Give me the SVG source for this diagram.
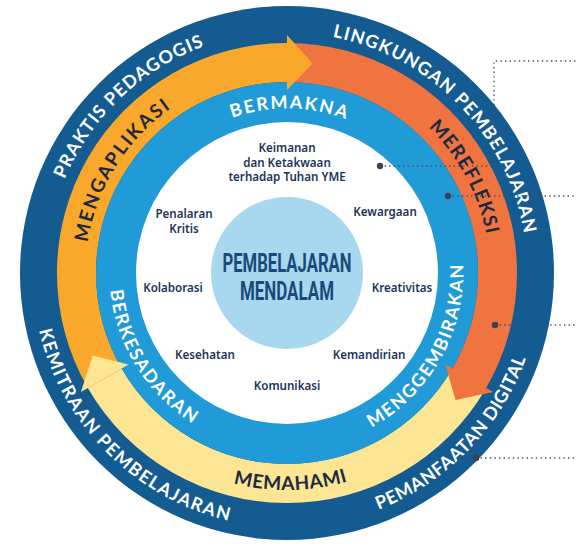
<svg xmlns="http://www.w3.org/2000/svg" width="576" height="546" viewBox="0 0 576 546">
<style>
.ring{font-family:Lato,"Open Sans",sans-serif;font-weight:700;font-size:18px}
.w{fill:#ffffff}
.d{fill:#1b2a40}
.lbl{font-family:"Noto Sans","Open Sans",sans-serif;font-weight:600;font-size:11.6px;fill:#1d3557;text-anchor:middle}
.ctr{font-family:Roboto,"Liberation Sans",sans-serif;font-weight:700;font-size:26px;fill:#1a4a7a;text-anchor:middle}
.lead{fill:none;stroke:#4a505c;stroke-width:1.4;stroke-dasharray:1.4 3.2}
.dot{fill:#3b4252}
</style>
<defs>
<path id="pPrak" d="M 111.82 439.24 A 241.5 241.5 0 0 1 462.18 106.76"/>
<path id="pLing" d="M 118.79 99.72 A 241.5 241.5 0 0 1 455.21 446.28"/>
<path id="pPem" d="M 109.57 455.45 A 254.5 254.5 0 0 0 464.43 90.55"/>
<path id="pKem" d="M 107.04 93.04 A 254.5 254.5 0 0 0 466.96 452.96"/>
<path id="pApl" d="M 179.43 445.15 A 203 203 0 0 1 394.57 100.85"/>
<path id="pRef" d="M 190.76 94.26 A 203 203 0 0 1 383.24 451.74"/>
<path id="pMem" d="M 70.03 276.79 A 217 217 0 0 0 503.97 269.21"/>
<path id="pBer" d="M 122.52 270.13 A 164.5 164.5 0 0 1 451.48 275.87"/>
<path id="pSad" d="M 192.94 122.47 A 177.5 177.5 0 0 0 381.06 423.53"/>
<path id="pGem" d="M 200.95 428.24 A 177.5 177.5 0 0 0 373.05 117.76"/>
</defs>
<g id="outer-ring">
<circle cx="287" cy="273" r="267" fill="#135b91"/>
</g>
<g id="arrow-ring">
<path id="shaft-memahami" d="M 486.19 388 A 230 230 0 0 1 87.81 388 L 121.59 368.5 A 191 191 0 0 0 452.41 368.5 Z" fill="#fce593"/>
<path id="shaft-mengaplikasi" d="M 87.81 388 A 230 230 0 0 1 287 43 L 287 82 A 191 191 0 0 0 121.59 368.5 Z" fill="#f9a82b"/>
<path id="shaft-merefleksi" d="M 287 43 A 230 230 0 0 1 486.19 388 L 452.41 368.5 A 191 191 0 0 0 287 82 Z" fill="#f0743f"/>
</g>
<g id="middle-ring">
<circle cx="287" cy="273" r="191" fill="#219bd8"/>
<circle cx="287" cy="273" r="151" fill="#ffffff"/>
</g>
<g id="arrowheads">
<polygon points="287,90 287,35 312.71,63.57" fill="#f9a82b"/>
<polygon points="445.48,364.5 493.11,392 455.51,399.98" fill="#f0743f"/>
<polygon points="128.52,364.5 80.89,392 92.77,355.44" fill="#fce593"/>
</g>
<g id="center">
<circle cx="287" cy="273" r="76" fill="#a7d8ee"/>
<text class="ctr" x="287" y="271.5" textLength="129" lengthAdjust="spacingAndGlyphs">PEMBELAJARAN</text>
<text class="ctr" x="287" y="300" textLength="94" lengthAdjust="spacingAndGlyphs">MENDALAM</text>
</g>
<g id="outer-labels" class="ring w">
<text letter-spacing="1.1"><textPath href="#pPrak" startOffset="50%" text-anchor="middle">PRAKTIS PEDAGOGIS</textPath></text>
<text letter-spacing="1.2"><textPath href="#pLing" startOffset="50%" text-anchor="middle">LINGKUNGAN PEMBELAJARAN</textPath></text>
<text letter-spacing="0.6"><textPath href="#pPem" startOffset="50%" text-anchor="middle">PEMANFAATAN DIGITAL</textPath></text>
<text letter-spacing="1.5"><textPath href="#pKem" startOffset="50%" text-anchor="middle">KEMITRAAN PEMBELAJARAN</textPath></text>
</g>
<g id="arrow-labels" class="ring d">
<text letter-spacing="2" style="font-size:19px"><textPath href="#pApl" startOffset="50%" text-anchor="middle">MENGAPLIKASI</textPath></text>
<text letter-spacing="1.2" style="font-size:19px"><textPath href="#pRef" startOffset="50%" text-anchor="middle">MEREFLEKSI</textPath></text>
<text letter-spacing="0.6" style="font-size:19px"><textPath href="#pMem" startOffset="50%" text-anchor="middle">MEMAHAMI</textPath></text>
</g>
<g id="middle-labels" class="ring w">
<text letter-spacing="2"><textPath href="#pBer" startOffset="50%" text-anchor="middle">BERMAKNA</textPath></text>
<text letter-spacing="1.8"><textPath href="#pSad" startOffset="50%" text-anchor="middle">BERKESADARAN</textPath></text>
<text letter-spacing="1.7"><textPath href="#pGem" startOffset="50%" text-anchor="middle">MENGGEMBIRAKAN</textPath></text>
</g>
<g id="dimensions">
<text class="lbl" x="287" y="151.5">Keimanan</text>
<text class="lbl" x="287" y="166.5">dan Ketakwaan</text>
<text class="lbl" x="287" y="181">terhadap Tuhan YME</text>
<text class="lbl" x="184" y="218">Penalaran</text>
<text class="lbl" x="184" y="232.5">Kritis</text>
<text class="lbl" x="385" y="216">Kewargaan</text>
<text class="lbl" x="173" y="292">Kolaborasi</text>
<text class="lbl" x="402" y="292">Kreativitas</text>
<text class="lbl" x="205" y="359">Kesehatan</text>
<text class="lbl" x="369" y="359">Kemandirian</text>
<text class="lbl" x="287" y="390">Komunikasi</text>
</g>
<g id="connectors">
<polyline class="lead" points="380,166 494,166 494,61 576,61"/>
<line class="lead" x1="448" y1="196" x2="576" y2="196"/>
<line class="lead" x1="495" y1="325" x2="576" y2="325"/>
<line class="lead" x1="476" y1="458" x2="576" y2="458"/>
<circle class="dot" cx="380" cy="166" r="3.2"/>
<circle class="dot" cx="448" cy="196" r="3.2"/>
<circle class="dot" cx="495" cy="325" r="3.2"/>
<circle class="dot" cx="476" cy="458" r="3.2"/>
</g>
</svg>
